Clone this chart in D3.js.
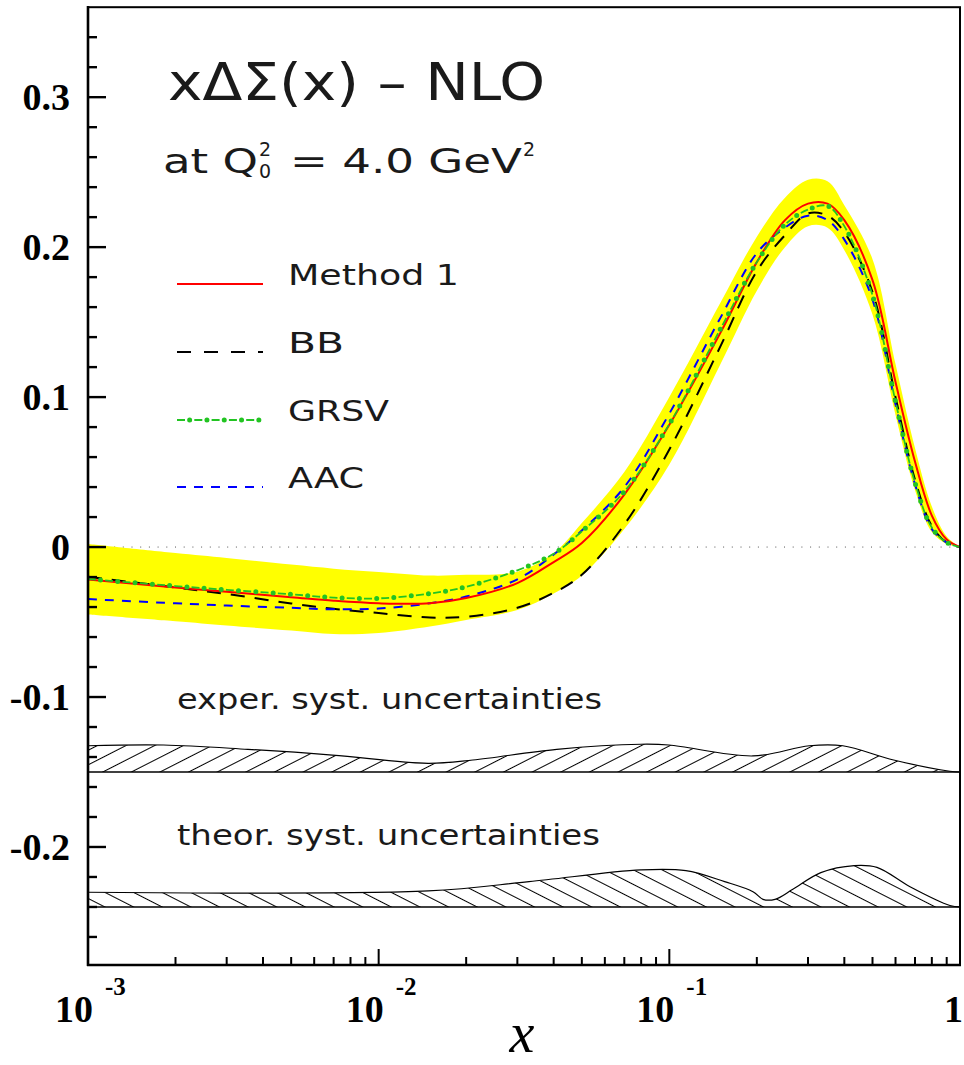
<!DOCTYPE html>
<html><head><meta charset="utf-8">
<script src="https://cdn.jsdelivr.net/npm/d3@7"></script>
<style>body{margin:0;background:#fff} svg{display:block}</style>
</head><body><svg id="c" width="964" height="1065"></svg>
<script>
// ---- data ----
const xGrid = [0.001, 0.002, 0.003, 0.005, 0.007, 0.01, 0.015, 0.02, 0.03, 0.04, 0.05, 0.07, 0.1, 0.15, 0.2, 0.25, 0.3, 0.35, 0.4, 0.5, 0.6, 0.7, 0.8, 0.9, 1.0];
const method1 = [-0.0216, -0.027, -0.0298, -0.0334, -0.0358, -0.0375, -0.0375, -0.0340, -0.0240, -0.0100, 0.0027, 0.035, 0.0815, 0.143, 0.19, 0.218, 0.229, 0.229, 0.218, 0.178, 0.110, 0.057, 0.021, 0.005, 0];
const bb = [-0.0198, -0.027, -0.0313, -0.0376, -0.0412, -0.0440, -0.0470, -0.0465, -0.0405, -0.0305, -0.0185, 0.015, 0.065, 0.134, 0.184, 0.208, 0.2225, 0.221, 0.21, 0.17, 0.10, 0.045, 0.014, 0.003, 0];
const grsv = [-0.0213, -0.026, -0.0285, -0.0315, -0.0337, -0.0342, -0.031, -0.0265, -0.0155, -0.0045, 0.0105, 0.037, 0.082, 0.1455, 0.19, 0.215, 0.225, 0.2275, 0.214, 0.168, 0.097, 0.043, 0.013, 0.003, 0];
const aac = [-0.0347, -0.0375, -0.039, -0.0405, -0.0415, -0.041, -0.0375, -0.033, -0.0215, -0.005, 0.011, 0.040, 0.089, 0.153, 0.196, 0.213, 0.221, 0.218, 0.205, 0.165, 0.095, 0.042, 0.012, 0.003, 0];
const bandUpper = [0.002, -0.004, -0.0073, -0.0117, -0.0144, -0.0166, -0.019, -0.0185, -0.0164, -0.004, 0.016, 0.05, 0.10, 0.163, 0.207, 0.233, 0.245, 0.244, 0.228, 0.192, 0.122, 0.066, 0.027, 0.007, 0];
const bandLower = [-0.045, -0.0495, -0.0523, -0.0557, -0.058, -0.0573, -0.053, -0.0487, -0.042, -0.031, -0.019, 0.012, 0.055, 0.122, 0.171, 0.2, 0.214, 0.213, 0.198, 0.155, 0.088, 0.038, 0.01, 0.002, 0];

const expX = [0.001, 0.00182, 0.00355, 0.00693, 0.0148, 0.0211, 0.041, 0.0798, 0.0997, 0.194, 0.303, 0.395, 0.591, 0.923, 1.0];
const expTop = [-0.1325, -0.132, -0.1349, -0.1387, -0.1442, -0.142, -0.1349, -0.1315, -0.132, -0.1393, -0.1325, -0.1325, -0.142, -0.1495, -0.15];
const expBase = -0.15;
const theoX = [0.001, 0.0148, 0.0329, 0.0798, 0.114, 0.155, 0.194, 0.210, 0.231, 0.266, 0.332, 0.433, 0.518, 0.673, 0.923, 1.0];
const theoTop = [-0.2302, -0.2293, -0.2231, -0.2153, -0.2158, -0.2231, -0.2298, -0.2349, -0.2349, -0.2282, -0.2171, -0.2124, -0.2136, -0.2265, -0.239, -0.24];
const theoBase = -0.24;

const yMajor = [0.3, 0.2, 0.1, 0, -0.1, -0.2];
const yLabels = ["0.3", "0.2", "0.1", "0", "-0.1", "-0.2"];
const xMajor = [0.001, 0.01, 0.1, 1];
const xExps = ["-3", "-2", "-1", ""];
const legendNames = ["Method 1", "BB", "GRSV", "AAC"];

// ---- setup ----
const svg = d3.select("#c");
const x = d3.scaleLog().domain([1e-3, 1]).range([88, 960]);
const y = d3.scaleLinear().domain([-0.2787, 0.36]).range([965, 7.2]);
const curve = d3.curveCatmullRom.alpha(0.5);
const defs = svg.append("defs");
function hatch(id, angle, sp) {
  const p = defs.append("pattern").attr("id", id).attr("patternUnits", "userSpaceOnUse")
    .attr("width", sp).attr("height", sp).attr("patternTransform", `rotate(${angle})`);
  p.append("line").attr("x1", -1).attr("x2", sp + 1).attr("y1", sp / 2).attr("y2", sp / 2)
    .attr("stroke", "#000").attr("stroke-width", 1);
}
hatch("hExp", -27, 13);
hatch("hTheo", 27, 13);

const sans = "'DejaVu Sans', sans-serif";
const serif = "'Liberation Serif', 'Times New Roman', serif";

// zero line
svg.append("line").attr("x1", x(1e-3)).attr("x2", x(1)).attr("y1", y(0)).attr("y2", y(0))
  .attr("stroke", "#555").attr("stroke-width", 1).attr("stroke-dasharray", "1,7.7");

// yellow band
const bandData = xGrid.map((v, i) => ({x: v, lo: bandLower[i], hi: bandUpper[i]}));
svg.append("path").datum(bandData)
  .attr("d", d3.area().x(d => x(d.x)).y0(d => y(d.lo)).y1(d => y(d.hi)).curve(curve))
  .attr("fill", "#ffff00");

// curves
const lineGen = d3.line().x(d => x(d.x)).y(d => y(d.v)).curve(curve);
const mk = arr => xGrid.map((v, i) => ({x: v, v: arr[i]}));
svg.append("path").datum(mk(bb)).attr("d", lineGen).attr("fill", "none")
  .attr("stroke", "#000").attr("stroke-width", 2).attr("stroke-dasharray", "14,10");
svg.append("path").datum(mk(aac)).attr("d", lineGen).attr("fill", "none")
  .attr("stroke", "#0000ff").attr("stroke-width", 2).attr("stroke-dasharray", "9,8");
svg.append("path").datum(mk(method1)).attr("d", lineGen).attr("fill", "none")
  .attr("stroke", "#ff0000").attr("stroke-width", 2);
const green = "#22c422";
svg.append("path").datum(mk(grsv)).attr("d", lineGen).attr("fill", "none")
  .attr("stroke", green).attr("stroke-width", 1.8).attr("stroke-dasharray", "8,9.3");
svg.append("path").datum(mk(grsv)).attr("d", lineGen).attr("fill", "none")
  .attr("stroke", green).attr("stroke-width", 5).attr("stroke-linecap", "round")
  .attr("stroke-dasharray", "0,17.3").attr("stroke-dashoffset", -12.65);

// hatched bands
function hband(xs, tops, base, pat) {
  const d = xs.map((v, i) => ({x: v, v: tops[i]}));
  svg.append("path").datum(d)
    .attr("d", d3.area().x(p => x(p.x)).y0(y(base)).y1(p => y(p.v)).curve(curve))
    .attr("fill", `url(#${pat})`);
  svg.append("path").datum(d).attr("d", lineGen).attr("fill", "none").attr("stroke", "#000").attr("stroke-width", 1.2);
  svg.append("line").attr("x1", x(1e-3)).attr("x2", x(1)).attr("y1", y(base)).attr("y2", y(base))
    .attr("stroke", "#000").attr("stroke-width", 1.5);
}
hband(expX, expTop, expBase, "hExp");
hband(theoX, theoTop, theoBase, "hTheo");

// frame
svg.append("rect").attr("x", 88).attr("y", 7.2).attr("width", 872).attr("height", 957.8)
  .attr("fill", "none").attr("stroke", "#000").attr("stroke-width", 2);
svg.append("line").attr("x1", 88).attr("x2", 88).attr("y1", 6).attr("y2", 966).attr("stroke", "#000").attr("stroke-width", 2.6);
svg.append("line").attr("x1", 87).attr("x2", 961).attr("y1", 965).attr("y2", 965).attr("stroke", "#000").attr("stroke-width", 2.6);

// y ticks
const yMinor = d3.range(-26, 35, 2).map(v => v / 100);
svg.append("g").selectAll("line").data(yMinor).join("line")
  .attr("x1", 88).attr("x2", d => yMajor.some(m => Math.abs(m - d) < 1e-9) ? 106 : 97)
  .attr("y1", d => y(d)).attr("y2", d => y(d)).attr("stroke", "#000").attr("stroke-width", 2.4);
svg.append("g").selectAll("text").data(yMajor).join("text")
  .attr("x", 70).attr("y", d => y(d) + 13).attr("text-anchor", "end")
  .attr("font-family", serif).attr("font-weight", "bold").attr("font-size", 38)
  .text((d, i) => yLabels[i]);

// x ticks
const xTicksAll = [];
for (let e = -3; e < 0; e++) for (let m = 1; m <= 9; m++) xTicksAll.push(m * Math.pow(10, e));
xTicksAll.push(1);
svg.append("g").selectAll("line").data(xTicksAll).join("line")
  .attr("x1", d => x(d)).attr("x2", d => x(d)).attr("y1", 965)
  .attr("y2", d => Math.abs(Math.log10(d) - Math.round(Math.log10(d))) < 1e-9 ? 949 : 957)
  .attr("stroke", "#000").attr("stroke-width", 2);
xMajor.forEach((v, i) => {
  if (xExps[i] !== "") {
    svg.append("text").attr("x", x(v) + 5).attr("y", 1022).attr("text-anchor", "end")
      .attr("font-family", serif).attr("font-weight", "bold").attr("font-size", 38).text("10");
    svg.append("text").attr("x", x(v) + 17).attr("y", 995)
      .attr("font-family", serif).attr("font-weight", "bold").attr("font-size", 25).text(xExps[i]);
  } else {
    svg.append("text").attr("x", x(v) + 3).attr("y", 1022).attr("text-anchor", "end")
      .attr("font-family", serif).attr("font-weight", "bold").attr("font-size", 38).text("1");
  }
});
svg.append("text").attr("x", 522).attr("y", 1052).attr("text-anchor", "middle")
  .attr("font-family", serif).attr("font-style", "italic").attr("font-size", 56).text("x");

// title
const tcol = "#1a1a1a";
svg.append("text").attr("x", 168).attr("y", 100).attr("font-family", sans).attr("font-size", 52)
  .attr("fill", tcol).attr("textLength", 377).attr("lengthAdjust", "spacingAndGlyphs").text("xΔΣ(x) – NLO");
const sub = svg.append("text").attr("font-family", sans).attr("fill", tcol);
sub.append("tspan").attr("x", 163).attr("y", 173).attr("font-size", 34)
  .attr("textLength", 95).attr("lengthAdjust", "spacingAndGlyphs").text("at Q");
sub.append("tspan").attr("x", 259).attr("y", 156).attr("font-size", 19).text("2");
sub.append("tspan").attr("x", 259).attr("y", 178).attr("font-size", 19).text("0");
sub.append("tspan").attr("x", 290).attr("y", 173).attr("font-size", 34)
  .attr("textLength", 232).attr("lengthAdjust", "spacingAndGlyphs").text("= 4.0 GeV");
sub.append("tspan").attr("x", 523).attr("y", 156).attr("font-size", 19).text("2");

// legend
const legY = [284, 352, 420, 487];
const legLen = [171, 56, 101, 76];
const leg = svg.append("g");
const ls = [
  {stroke: "#ff0000", dash: null},
  {stroke: "#000", dash: "14,13"},
  {stroke: green, dash: "8,9.3", dots: true},
  {stroke: "#0000ff", dash: "9,8"}
];
ls.forEach((s, i) => {
  const l = leg.append("line").attr("x1", 177).attr("x2", 263).attr("y1", legY[i]).attr("y2", legY[i])
    .attr("stroke", s.stroke).attr("stroke-width", s.dots ? 1.8 : 2);
  if (s.dash) l.attr("stroke-dasharray", s.dash);
  if (s.dots) leg.append("line").attr("x1", 177).attr("x2", 263).attr("y1", legY[i]).attr("y2", legY[i])
    .attr("stroke", s.stroke).attr("stroke-width", 5).attr("stroke-linecap", "round")
    .attr("stroke-dasharray", "0,17.3").attr("stroke-dashoffset", -12.65);
  leg.append("text").attr("x", 288).attr("y", legY[i] + 1).attr("font-family", sans).attr("font-size", 29)
    .attr("fill", tcol).attr("textLength", legLen[i]).attr("lengthAdjust", "spacingAndGlyphs").text(legendNames[i]);
});

// band labels
svg.append("text").attr("x", 177).attr("y", 709).attr("font-family", sans).attr("font-size", 28)
  .attr("fill", tcol).attr("textLength", 425).attr("lengthAdjust", "spacingAndGlyphs").text("exper. syst. uncertainties");
svg.append("text").attr("x", 177).attr("y", 845).attr("font-family", sans).attr("font-size", 28)
  .attr("fill", tcol).attr("textLength", 423).attr("lengthAdjust", "spacingAndGlyphs").text("theor. syst. uncertainties");
</script></body></html>
